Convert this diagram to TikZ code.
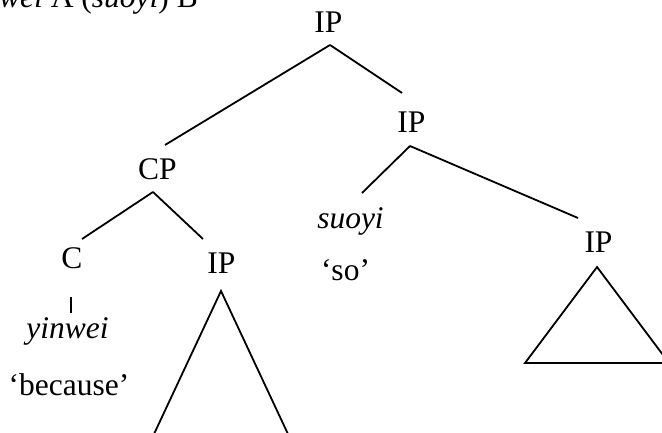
\documentclass[tikz,border=0pt]{standalone}
\usepackage{fontspec}
\setmainfont{Liberation Serif}
\begin{document}
\begin{tikzpicture}[x=1pt,y=1pt,
  lbl/.style={anchor=base,inner sep=0pt,font=\fontsize{31.5}{37}\selectfont},
  branch/.style={line width=1.8pt},
  tri/.style={line width=1.8pt,line join=miter}]
\clip (0,0) rectangle (662,432);

% example sentence heading (runs off the top edge)
\node[lbl,anchor=base east] (ex) at (198,424) {\textit{yinwei} A (\textit{suoyi}) B};

% labels
\node[lbl] (ip0) at (328.5,399) {IP};
\node[lbl] (ip1) at (411.5,299) {IP};
\node[lbl] (cp) at (157.5,252) {CP};
\node[lbl] (c) at (72,164) {C};
\node[lbl] (ip2) at (221.5,159) {IP};
\node[lbl] (ip3) at (598.5,180) {IP};
\node[lbl] (suoyi) at (350.5,204) {\textit{suoyi}};
\node[lbl] (so) at (345.5,152) {`so'};
\node[lbl] (yinwei) at (67.5,94) {\textit{yinwei}};
\node[lbl] (because) at (69,37) {`because'};

% branches
\draw[branch] ([xshift=1.5pt,yshift=-12pt]ip0.base) -- ([xshift=7.5pt,yshift=35pt]cp.base);
\draw[branch] ([xshift=1.5pt,yshift=-12pt]ip0.base) -- ([xshift=-9.5pt,yshift=40pt]ip1.base);
\draw[branch] ([xshift=-1.5pt,yshift=-13pt]ip1.base) -- ([xshift=11.5pt,yshift=35pt]suoyi.base);
\draw[branch] ([xshift=-1.5pt,yshift=-13pt]ip1.base) -- ([xshift=-20.5pt,yshift=34pt]ip3.base);
\draw[branch] ([xshift=-4.5pt,yshift=-12pt]cp.base) -- ([xshift=10pt,yshift=29pt]c.base);
\draw[branch] ([xshift=-4.5pt,yshift=-12pt]cp.base) -- ([xshift=-18.5pt,yshift=34pt]ip2.base);
\draw[branch] ([xshift=-1pt,yshift=-29pt]c.base) -- ([xshift=3.5pt,yshift=25pt]yinwei.base);

% unanalysed constituents
\draw[tri] ([xshift=-75.9pt,yshift=-179pt]ip2.base) -- ([xshift=-0.5pt,yshift=-18pt]ip2.base)
  -- ([xshift=74.9pt,yshift=-179pt]ip2.base);
\draw[tri] ([xshift=-73.5pt,yshift=-111pt]ip3.base) -- ([xshift=-1.5pt,yshift=-15pt]ip3.base)
  -- ([xshift=70.5pt,yshift=-111pt]ip3.base) -- cycle;
\end{tikzpicture}
\end{document}
